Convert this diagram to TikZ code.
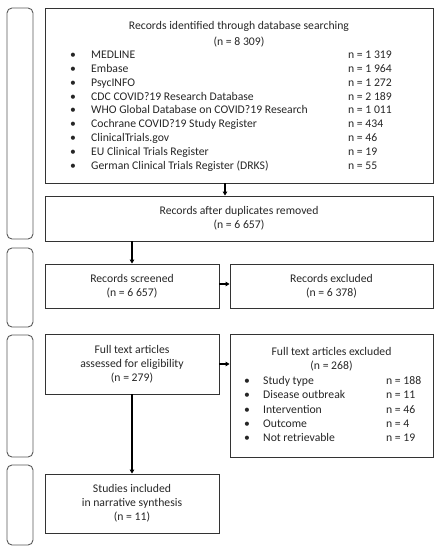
\documentclass[tikz,border=0pt]{standalone}
\usepackage{fontspec}
\setmainfont{Carlito}
\usetikzlibrary{arrows.meta}
\begin{document}
\begin{tikzpicture}[x=1pt,y=-1pt,
  box/.style={draw=black!80,line width=0.9pt,inner sep=0pt,align=center,font=\fontsize{11.7}{14}\selectfont,text=black!85},
  bracket/.style={draw=black!65,line width=0.9pt,rounded corners=5pt},
  txt/.style={inner sep=0pt,font=\fontsize{11.7}{14}\selectfont,text=black!85},
  arr/.style={draw=black,line width=1.3pt,-{Triangle[length=4pt,width=4.5pt]}}]
\useasboundingbox (0,0) rectangle (440,550);
% brackets
\node[bracket,minimum width=26pt,minimum height=231pt] (br1) at (20,123.5) {};
\node[bracket,minimum width=26pt,minimum height=79pt] (br2) at (20,287.5) {};
\node[bracket,minimum width=26pt,minimum height=122pt] (br3) at (20,396) {};
\node[bracket,minimum width=26pt,minimum height=80pt] (br4) at (20,505) {};
% boxes
\node[box,minimum width=388pt,minimum height=175pt] (b1) at (239,95.5) {};
\node[box,minimum width=388pt,minimum height=45pt] (b2) at (239,218.5) {Records after duplicates removed\\(n = 6 657)};
\node[box,minimum width=174pt,minimum height=44pt] (scr) at (132,286) {Records screened\\(n = 6 657)};
\node[box,minimum width=203pt,minimum height=44pt] (exc) at (331.5,286) {Records excluded\\(n = 6 378)};
\node[box,minimum width=174pt,minimum height=60pt] (full) at (132,364) {Full text articles\\assessed for eligibility\\(n = 279)};
\node[box,minimum width=203pt,minimum height=123pt] (fexc) at (331.5,395.5) {};
\node[box,minimum width=174pt,minimum height=59pt] (inc) at (132,503.5) {Studies included\\in narrative synthesis\\(n = 11)};
% box 1 text
\node[txt,anchor=mid] (t1a) at (239,27) {Records identified through database searching};
\node[txt,anchor=mid] (t1b) at (239,43) {(n = 8 309)};
\foreach \i/\name/\n in {0/MEDLINE/1 319,1/Embase/1 964,2/PsycINFO/1 272,3/CDC COVID?19 Research Database/2 189,4/WHO Global Database on COVID?19 Research/1 011,5/Cochrane COVID?19 Study Register/434,6/ClinicalTrials.gov/46,7/EU Clinical Trials Register/19,8/German Clinical Trials Register (DRKS)/55}{
  \node[txt,anchor=mid] (db\i b) at (73,56+13.9*\i) {•};
  \node[txt,anchor=mid west] (db\i) at (91,56+13.9*\i) {\name};
  \node[txt,anchor=mid west] (db\i n) at (348,56+13.9*\i) {n = \n};
}
% excluded full text
\node[txt,anchor=mid] (f1a) at (331.5,353) {Full text articles excluded};
\node[txt,anchor=mid] (f1b) at (331.5,367) {(n = 268)};
\foreach \i/\name/\n in {0/Study type/188,1/Disease outbreak/11,2/Intervention/46,3/Outcome/4,4/Not retrievable/19}{
  \node[txt,anchor=mid] (ex\i b) at (247,382+14.4*\i) {\textbullet};
  \node[txt,anchor=mid west] (ex\i) at (263,382+14.4*\i) {\name};
  \node[txt,anchor=mid west] (ex\i n) at (386,382+14.4*\i) {n = \n};
}
% arrows
\draw[arr] ([xshift=-14pt]b1.south) -- ([xshift=-14pt]b2.north);
\draw[arr] (b2.south -| scr.north) -- (scr.north);
\draw[arr] ([yshift=2pt]scr.east) -- ([yshift=2pt]scr.east -| exc.west);
\draw[arr] (full.east) -- (full.east -| fexc.west);
\draw[arr] (full.south) -- (inc.north);
\end{tikzpicture}
\end{document}
